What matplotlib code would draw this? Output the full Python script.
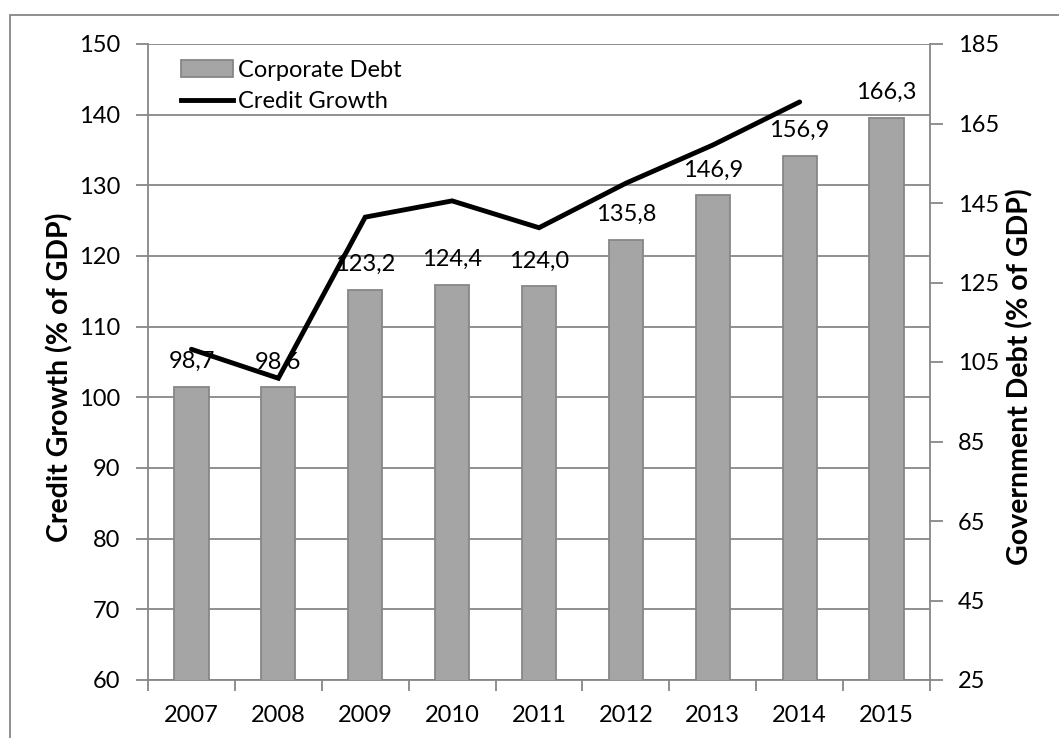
import matplotlib
matplotlib.use("Agg")
import matplotlib.pyplot as plt
from matplotlib.patches import Rectangle, Patch
from matplotlib.lines import Line2D
import numpy as np

years = ["2007", "2008", "2009", "2010", "2011", "2012", "2013", "2014", "2015"]
corporate_debt = [98.7, 98.6, 123.2, 124.4, 124.0, 135.8, 146.9, 156.9, 166.3]
credit_growth = [106.8, 102.7, 125.5, 127.8, 124.0, 130.3, 135.7, 141.8]
left_ticks = [60, 70, 80, 90, 100, 110, 120, 130, 140, 150]
right_ticks = [25, 45, 65, 85, 105, 125, 145, 165, 185]

plt.rcParams['font.family'] = ['Lato', 'DejaVu Sans']
FS = 17
LFS = 20.5
GRID = '#878787'
BAR = '#A5A5A5'

W, H = 1059, 738
fig = plt.figure(figsize=(W / 100, H / 100), dpi=100)

# outer border
fig.patches.append(Rectangle((10 / W, -0.05), 1.2, 1 - 15 / H + 0.05, transform=fig.transFigure,
                             fill=False, edgecolor=GRID, linewidth=1.3))

L, R, T, B = 148, 930, 44, 680
pos = [L / W, 1 - B / H, (R - L) / W, (B - T) / H]
ax = fig.add_axes(pos)
ax2 = ax.twinx()

x = np.arange(len(years))
label_y = (B - 377) / (B - T)

# left axis (grid)
ax.set_xlim(-0.5, len(years) - 0.5)
ax.set_ylim(60, 150)
ax.set_yticks(left_ticks)
ax.grid(axis='y', color=GRID, linewidth=1.3)
ax.set_axisbelow(True)
for s in ['left', 'right', 'bottom']:
    ax.spines[s].set_color(GRID)
    ax.spines[s].set_linewidth(1.3)
ax.spines['top'].set_visible(False)
ax.tick_params(axis='y', length=9, width=1.3, color=GRID, labelsize=FS, pad=11)
ax.set_xticks(np.arange(-0.5, len(years), 1.0))
ax.set_xticklabels([])
ax.tick_params(axis='x', which='major', length=8, width=1.3, color=GRID)
ax.set_xticks(x, minor=True)
ax.set_xticklabels(years, minor=True)
ax.tick_params(axis='x', which='minor', length=0, labelsize=FS, pad=18)
ax.set_ylabel("Credit Growth (% of GDP)", fontsize=LFS, fontweight='bold')
ax.yaxis.set_label_coords((60 - L) / (R - L), label_y)
ax.yaxis.label.set_va('center')

# right axis bars
bars = ax2.bar(x, corporate_debt, width=0.395, color=BAR, edgecolor=GRID, linewidth=1.3, zorder=2)
ax2.set_ylim(25, 185)
ax2.set_yticks(right_ticks)
for s in ['left', 'right', 'bottom', 'top']:
    ax2.spines[s].set_visible(False)
ax2.tick_params(axis='y', length=9, width=1.3, color=GRID, labelsize=FS, pad=11)
ax2.set_ylabel("Government Debt (% of GDP)", fontsize=LFS, fontweight='bold')
ax2.yaxis.set_label_coords((1020 - L) / (R - L), label_y)
ax2.yaxis.label.set_va('center')
ax2.yaxis.label.set_ha('center')
for xi, v in zip(x, corporate_debt):
    ax2.annotate(f"{v:.1f}".replace('.', ','), (xi, v), xytext=(0, 19), textcoords='offset pixels',
                 ha='center', va='baseline', fontsize=FS)

# line on top, sharing left scale
ax3 = fig.add_axes(pos, sharex=ax, sharey=ax)
ax3.axis('off')
ax3.patch.set_visible(False)
ax3.plot(x[:len(credit_growth)], credit_growth, color='black', linewidth=3.5,
         solid_capstyle='round', solid_joinstyle='miter')

handles = [Patch(facecolor=BAR, edgecolor=GRID, linewidth=1.3),
           Line2D([0], [0], color='black', linewidth=3.5)]
ax3.legend(handles, ["Corporate Debt", "Credit Growth"], loc='upper left',
           bbox_to_anchor=(0.03, 0.99), frameon=False, fontsize=FS,
           handlelength=2.2, handletextpad=0.2, labelspacing=0.45, borderaxespad=0)

fig.savefig("out.png", dpi=100)
